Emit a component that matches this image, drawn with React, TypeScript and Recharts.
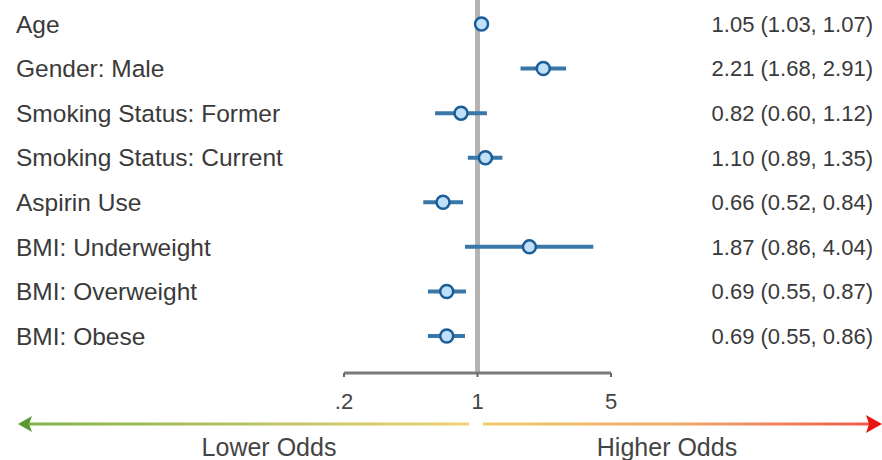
import React from "react";
import {
  ComposedChart,
  Scatter,
  XAxis,
  YAxis,
  ErrorBar,
  ReferenceLine,
} from "recharts";

const categories = [
  "Age",
  "Gender: Male",
  "Smoking Status: Former",
  "Smoking Status: Current",
  "Aspirin Use",
  "BMI: Underweight",
  "BMI: Overweight",
  "BMI: Obese",
];
const oddsRatios = [1.05, 2.21, 0.82, 1.1, 0.66, 1.87, 0.69, 0.69];
const lowerCI = [1.03, 1.68, 0.6, 0.89, 0.52, 0.86, 0.55, 0.55];
const upperCI = [1.07, 2.91, 1.12, 1.35, 0.84, 4.04, 0.87, 0.86];
const xTicks = [0.2, 1, 5];
const xTickLabels = [".2", "1", "5"];
const lowerLabel = "Lower Odds";
const higherLabel = "Higher Odds";

const rowIndex = categories.map((_, i) => i);

const data = categories.map((name, i) => ({
  idx: i,
  name,
  or: oddsRatios[i],
  err: [oddsRatios[i] - lowerCI[i], upperCI[i] - oddsRatios[i]],
}));

const FONT = "'Liberation Sans', Arial, Helvetica, sans-serif";

const LeftTick = (props: any) => {
  const { y, payload } = props;
  return (
    <text
      x={16}
      y={y}
      dy="0.355em"
      textAnchor="start"
      fontSize={24.5}
      fill="#3a3a3a"
      fontFamily={FONT}
    >
      {categories[payload.value]}
    </text>
  );
};

const RightTick = (props: any) => {
  const { y, payload } = props;
  const i = payload.value;
  if (oddsRatios[i] === undefined) return null;
  const txt = `${oddsRatios[i].toFixed(2)} (${lowerCI[i].toFixed(2)}, ${upperCI[i].toFixed(2)})`;
  return (
    <text
      x={873}
      y={y}
      dy="0.355em"
      textAnchor="end"
      fontSize={22}
      fill="#3a3a3a"
      fontFamily={FONT}
    >
      {txt}
    </text>
  );
};

const Dot = (props: any) => {
  const { cx, cy } = props;
  return (
    <circle cx={cx} cy={cy} r={6.5} fill="#bfe0f8" stroke="#1b5d96" strokeWidth={2.5} />
  );
};

const NoShape = () => <g />;

const Y_DOMAIN: [number, number] = [-0.5385, 7.83];

export default function App() {
  return (
    <div style={{ position: "absolute", left: 0, top: 0, width: 882, height: 460, background: "#fff" }}>
      <ComposedChart
        width={882}
        height={460}
        data={data}
        margin={{ top: 0, right: 0, bottom: 0, left: 0 }}
      >
        <XAxis
          dataKey="or"
          type="number"
          scale="log"
          domain={[0.2, 5]}
          ticks={xTicks}
          allowDataOverflow
          height={87}
          axisLine={{ stroke: "#7a7a7a", strokeWidth: 3 }}
          tickLine={{ stroke: "#666", strokeWidth: 2 }}
          tickSize={4}
          tickMargin={16}
          tick={{ fontSize: 22, fill: "#444", fontFamily: FONT }}
          tickFormatter={(v: number) => xTickLabels[xTicks.indexOf(v)] ?? String(v)}
        />
        <YAxis
          yAxisId="left"
          dataKey="idx"
          type="number"
          domain={Y_DOMAIN}
          reversed
          ticks={rowIndex}
          width={344}
          axisLine={false}
          tickLine={false}
          tick={<LeftTick />}
          interval={0}
          allowDataOverflow
        />
        <YAxis
          yAxisId="right"
          orientation="right"
          dataKey="idx"
          type="number"
          domain={Y_DOMAIN}
          reversed
          ticks={rowIndex}
          width={271}
          axisLine={false}
          tickLine={false}
          tick={<RightTick />}
          interval={0}
          allowDataOverflow
        />
        <ReferenceLine yAxisId="left" x={1} stroke="#b4b4b4" strokeWidth={5} />
        <Scatter
          yAxisId="right"
          dataKey="idx"
          data={data}
          shape={<NoShape />}
          isAnimationActive={false}
        />
        <Scatter
          yAxisId="left"
          dataKey="idx"
          data={data}
          shape={<Dot />}
          isAnimationActive={false}
        >
          <ErrorBar dataKey="err" direction="x" width={0} stroke="#3a77a9" strokeWidth={4} />
        </Scatter>
      </ComposedChart>
      <svg
        width={882}
        height={460}
        style={{ position: "absolute", left: 0, top: 0, pointerEvents: "none" }}
      >
        <defs>
          <linearGradient id="gLeft" x1="0" y1="0" x2="1" y2="0">
            <stop offset="0%" stopColor="#7fb24a" />
            <stop offset="100%" stopColor="#f0d275" />
          </linearGradient>
          <linearGradient id="gRight" x1="0" y1="0" x2="1" y2="0">
            <stop offset="0%" stopColor="#f0cc68" />
            <stop offset="55%" stopColor="#efa468" />
            <stop offset="100%" stopColor="#ee5a4c" />
          </linearGradient>
        </defs>
        <rect x={24} y={422.5} width={445} height={3} fill="url(#gLeft)" />
        <polygon points="18,424 32,416 29,424 32,432" fill="#5a9a2c" />
        <rect x={483} y={422.5} width={388} height={3} fill="url(#gRight)" />
        <polygon points="882,424 866,415 869,424 866,433" fill="#e8160f" />
        <text x={269} y={456} textAnchor="middle" fontSize={25} fill="#444" fontFamily={FONT}>
          {lowerLabel}
        </text>
        <text x={667} y={456} textAnchor="middle" fontSize={25} fill="#444" fontFamily={FONT}>
          {higherLabel}
        </text>
      </svg>
    </div>
  );
}
